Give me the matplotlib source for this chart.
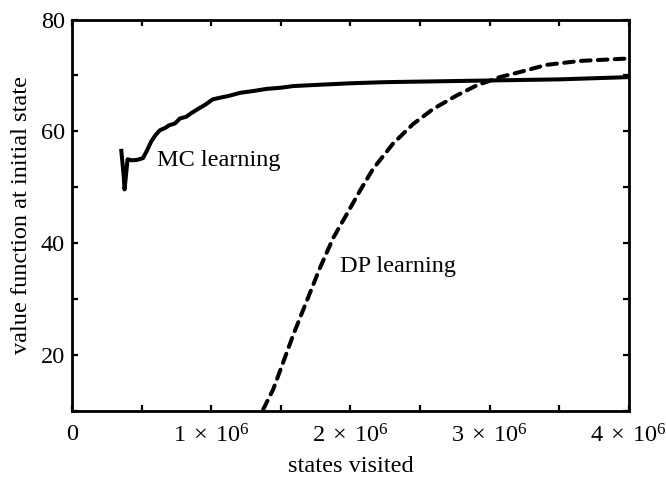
import numpy as np
import matplotlib.pyplot as plt
from matplotlib.ticker import MultipleLocator, FixedLocator

plt.rcParams["font.family"] = ["Liberation Serif", "DejaVu Serif"]
plt.rcParams["mathtext.fontset"] = "custom"
plt.rcParams["mathtext.rm"] = "Liberation Serif"
plt.rcParams["mathtext.it"] = "Liberation Serif:italic"

# MC learning curve (states visited in millions, value)
mc_x = [0.355, 0.372, 0.378, 0.40, 0.43, 0.47, 0.51, 0.54, 0.57, 0.60, 0.632, 0.67,
        0.70, 0.74, 0.776, 0.82, 0.86, 0.919, 0.96, 1.01, 1.06, 1.12, 1.21, 1.30,
        1.40, 1.50, 1.59, 1.75, 2.0, 2.25, 2.5, 2.75, 3.0, 3.25, 3.5, 3.75, 4.0]
mc_y = [56.5, 52.0, 49.6, 55.0, 54.8, 54.9, 55.2, 56.6, 58.2, 59.3, 60.2, 60.6,
        61.1, 61.4, 62.3, 62.6, 63.3, 64.2, 64.8, 65.7, 66.0, 66.3, 66.9, 67.2,
        67.6, 67.8, 68.1, 68.3, 68.6, 68.8, 68.9, 69.0, 69.1, 69.2, 69.3, 69.5, 69.7]

# DP learning curve
dp_x = [1.374, 1.446, 1.517, 1.589, 1.685, 1.781, 1.877, 1.973, 2.068, 2.164,
        2.307, 2.451, 2.595, 2.763, 2.906, 3.074, 3.217, 3.41, 3.65, 3.97]
dp_y = [10.2, 13.8, 18.6, 23.5, 29.5, 35.5, 40.9, 45.1, 49.3, 53.3,
        57.8, 61.3, 64.0, 66.4, 68.2, 69.7, 70.6, 71.9, 72.6, 73.0]

x_ticks = [0, 1e6, 2e6, 3e6, 4e6]
x_labels = ["0", r"$1\;\times\;10^{6}$", r"$2\;\times\;10^{6}$",
            r"$3\;\times\;10^{6}$", r"$4\;\times\;10^{6}$"]
y_ticks = [20, 40, 60, 80]

fs = 17.5

fig = plt.figure(figsize=(6.66, 4.78), dpi=100)
ax = fig.add_axes([0.108, 0.141, 0.836, 0.818])

ax.plot(np.array(mc_x) * 1e6, mc_y, color="black", lw=2.9, solid_joinstyle="round")
ax.plot(np.array(dp_x) * 1e6, dp_y, color="black", lw=2.9,
        linestyle=(0, (2.4, 1.8)), dash_capstyle="round")

ax.text(0.608e6, 54.8, "MC learning", fontsize=fs, va="center", ha="left")
ax.text(1.925e6, 35.8, "DP learning", fontsize=fs, va="center", ha="left")

ax.set_xlim(0, 4e6)
ax.set_ylim(10, 80)
ax.xaxis.set_major_locator(FixedLocator(x_ticks))
ax.set_xticklabels(x_labels)
ax.xaxis.set_minor_locator(MultipleLocator(0.5e6))
ax.yaxis.set_major_locator(FixedLocator(y_ticks))
ax.yaxis.set_minor_locator(MultipleLocator(10))

ax.tick_params(which="both", direction="in", top=True, right=True, width=1.6,
               length=4.5, labelsize=fs)
ax.tick_params(axis="x", pad=10)
ax.tick_params(axis="y", pad=5)
for s in ax.spines.values():
    s.set_linewidth(2)

ax.set_xlabel("states visited", fontsize=fs, labelpad=6)
ax.set_ylabel("value function at initial state", fontsize=fs, labelpad=6)

fig.savefig("out.png", dpi=100)
